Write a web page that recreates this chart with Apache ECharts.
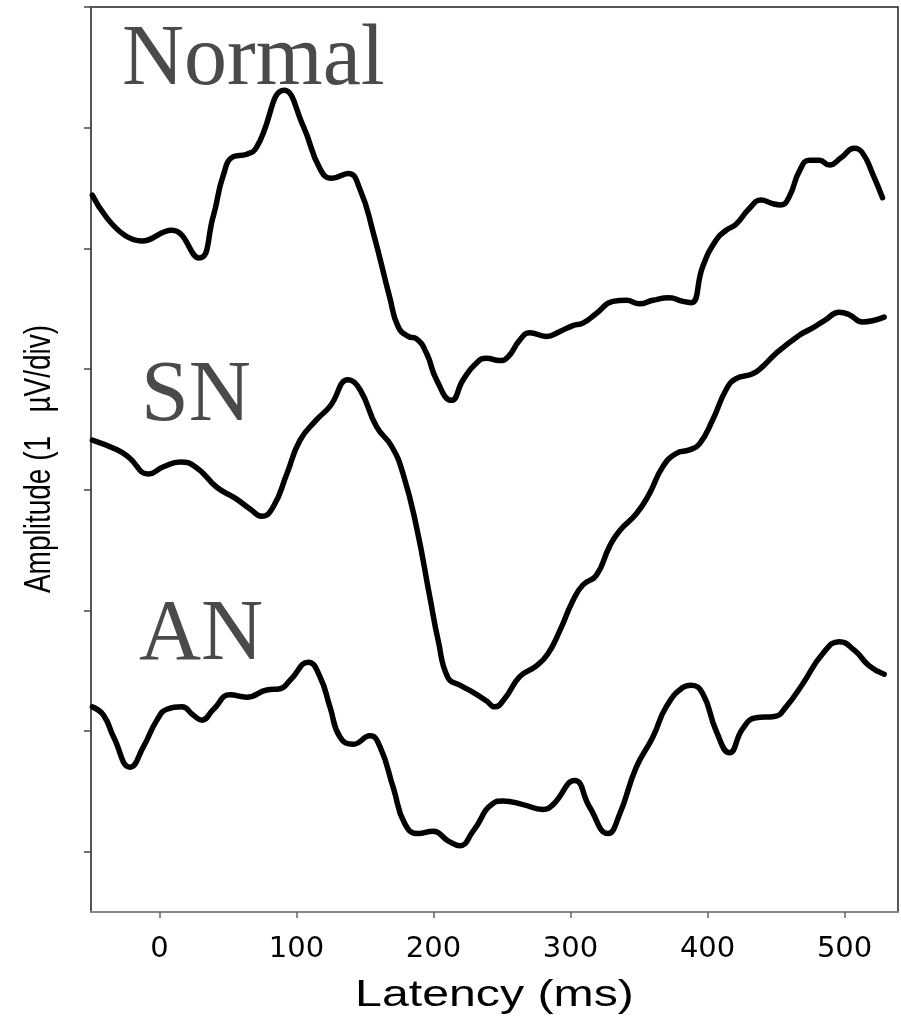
<!DOCTYPE html>
<html>
<head>
<meta charset="utf-8">
<script src="https://cdn.jsdelivr.net/npm/echarts@6/dist/echarts.min.js"></script>
<style>
html,body{margin:0;padding:0;background:#fff;}
#chart{width:901px;height:1020px;}
</style>
</head>
<body>
<div id="chart"></div>
<script>
// Latency (ms) and amplitude (µV, plotted with per-trace offsets, 1 µV per division)
var normalLatency = [-49,-12.8,9.0,28.9,39.1,46.4,53.9,63.7,71.0,91.1,105.0,117.1,125.7,137.8,146.3,156.0,168.1,174.2,181.5,187.6,194.9,202.2,213.1,221.6,231.3,238.6,248.3,254.4,262.9,270.2,282.4,292.1,301.7,309.0,318.8,330.9,340.7,350.4,360.1,372.2,382.0,388.2,396.5,406.3,413.6,420.8,430.5,439.1,447.5,453.6,459.7,467.0,474.3,481.6,488.9,497.4,507.1,513.1,520.4,527.7];
var normalAmp = [5.44,5.06,5.15,4.92,5.26,5.60,5.76,5.78,5.84,6.31,6.01,5.66,5.58,5.62,5.49,5.13,4.59,4.35,4.27,4.25,4.13,3.91,3.74,3.91,4.05,4.09,4.07,4.10,4.24,4.30,4.27,4.31,4.36,4.38,4.46,4.56,4.57,4.54,4.57,4.59,4.56,4.55,4.85,5.07,5.15,5.20,5.33,5.40,5.37,5.36,5.43,5.64,5.73,5.73,5.69,5.75,5.83,5.79,5.62,5.42];

var snLatency = [-49,-31.0,-22.6,-8.0,2.9,15.1,27.3,41.8,55.2,66.1,74.6,83.1,92.9,102.6,114.7,124.4,137.8,146.3,158.5,169.4,177.8,187.6,197.3,203.4,210.6,219.2,228.9,238.6,244.7,252.0,262.9,275.1,283.5,292.1,301.7,309.0,318.8,328.5,335.8,348.0,357.7,367.3,377.1,386.8,394.1,403.8,413.6,420.8,432.9,440.2,450.0,467.0,476.7,486.4,496.1,503.4,513.1,520.4,528.9];
var snAmp = [3.41,3.33,3.27,3.13,3.19,3.23,3.18,3.02,2.93,2.84,2.78,2.86,3.13,3.41,3.58,3.69,3.91,3.83,3.52,3.36,3.13,2.69,2.11,1.75,1.44,1.38,1.32,1.25,1.20,1.27,1.45,1.54,1.64,1.83,2.08,2.21,2.29,2.53,2.66,2.80,2.97,3.19,3.30,3.33,3.38,3.58,3.83,3.92,3.96,4.02,4.13,4.28,4.34,4.41,4.47,4.45,4.39,4.40,4.43];

var anLatency = [-49,-40.8,-33.5,-21.4,-11.7,-1.9,5.4,16.3,24.8,30.9,39.4,51.5,63.7,78.3,88.0,95.3,108.6,117.1,124.4,131.7,141.4,153.6,160.9,170.6,179.1,188.8,199.7,210.6,219.2,228.9,243.4,250.7,265.3,279.9,287.2,303.0,313.9,327.3,335.8,348.0,360.1,369.8,381.9,388.0,396.5,406.3,416.0,425.7,435.4,448.8,457.3,469.4,484.0,496.1,507.1,518.0,528.9];
var anAmp = [1.20,1.13,0.95,0.70,0.87,1.09,1.18,1.20,1.13,1.09,1.18,1.30,1.28,1.34,1.35,1.42,1.57,1.45,1.20,0.95,0.89,0.96,0.87,0.53,0.23,0.15,0.17,0.09,0.05,0.17,0.40,0.42,0.39,0.35,0.39,0.59,0.37,0.15,0.31,0.70,0.95,1.20,1.36,1.38,1.31,1.00,0.82,1.02,1.11,1.12,1.20,1.39,1.64,1.74,1.67,1.54,1.47];

var xTicks = [0,100,200,300,400,500];
var yTicks = [0,1,2,3,4,5,6,7];
var traceNames = ['Normal','SN','AN'];
var xTitle = 'Latency (ms)';
var yTitle = 'Amplitude (1   \u00b5V/div)';

function zip(xs, ys){ return xs.map(function(x,i){ return [x, ys[i]]; }); }

var chart = echarts.init(document.getElementById('chart'), null, {renderer:'canvas'});

function lineSeries(name, xs, ys){
  return {
    name: name, type: 'line', data: zip(xs, ys),
    showSymbol: false, smooth: 0.5, animation: false,
    lineStyle: {color: '#000', width: 5.5, cap: 'round', join: 'round'},
    emphasis: {disabled: true}
  };
}

var labelFont = {fontFamily: 'Liberation Serif', fontSize: 86, fill: '#4a4a4a'};

chart.setOption({
  animation: false,
  backgroundColor: '#fff',
  grid: {left: 91, right: 3, top: 7, bottom: 108, show: true, borderColor: '#222', borderWidth: 1.5, backgroundColor: 'transparent'},
  xAxis: {
    type: 'value', min: -50, max: 539,
    axisLine: {show: true, onZero: false, lineStyle: {color: '#888', width: 2}},
    axisTick: {show: true, customValues: xTicks, length: 6, lineStyle: {color: '#666', width: 1.5}},
    axisLabel: {show: true, customValues: xTicks, margin: 23, color: '#000', fontFamily: 'DejaVu Sans', fontSize: 29},
    splitLine: {show: false}
  },
  yAxis: {
    type: 'value', min: -0.5, max: 7,
    axisLine: {show: true, onZero: false, lineStyle: {color: '#555', width: 2}},
    axisTick: {show: true, customValues: yTicks, length: 7, lineStyle: {color: '#444', width: 1.5}},
    axisLabel: {show: false},
    splitLine: {show: false}
  },
  series: [
    lineSeries(traceNames[0], normalLatency, normalAmp),
    lineSeries(traceNames[1], snLatency, snAmp),
    lineSeries(traceNames[2], anLatency, anAmp)
  ],
  graphic: [
    {type: 'text', x: 122, y: 61, style: Object.assign({text: traceNames[0], align: 'left', verticalAlign: 'middle'}, labelFont)},
    {type: 'text', x: 141, y: 397, style: Object.assign({text: traceNames[1], align: 'left', verticalAlign: 'middle'}, labelFont)},
    {type: 'text', x: 139, y: 636, style: Object.assign({text: traceNames[2], align: 'left', verticalAlign: 'middle'}, labelFont)},
    {type: 'text', x: 494.5, y: 996.5, scaleX: 1.34, style: {text: xTitle, align: 'center', verticalAlign: 'middle', fontFamily: 'Liberation Sans', fontSize: 36, fill: '#000'}},
    {type: 'text', x: 40, y: 459, rotation: Math.PI / 2, scaleY: 1.3, style: {text: yTitle, align: 'center', verticalAlign: 'middle', fontFamily: 'Liberation Sans', fontSize: 28, fill: '#000'}}
  ]
});
</script>
</body>
</html>
